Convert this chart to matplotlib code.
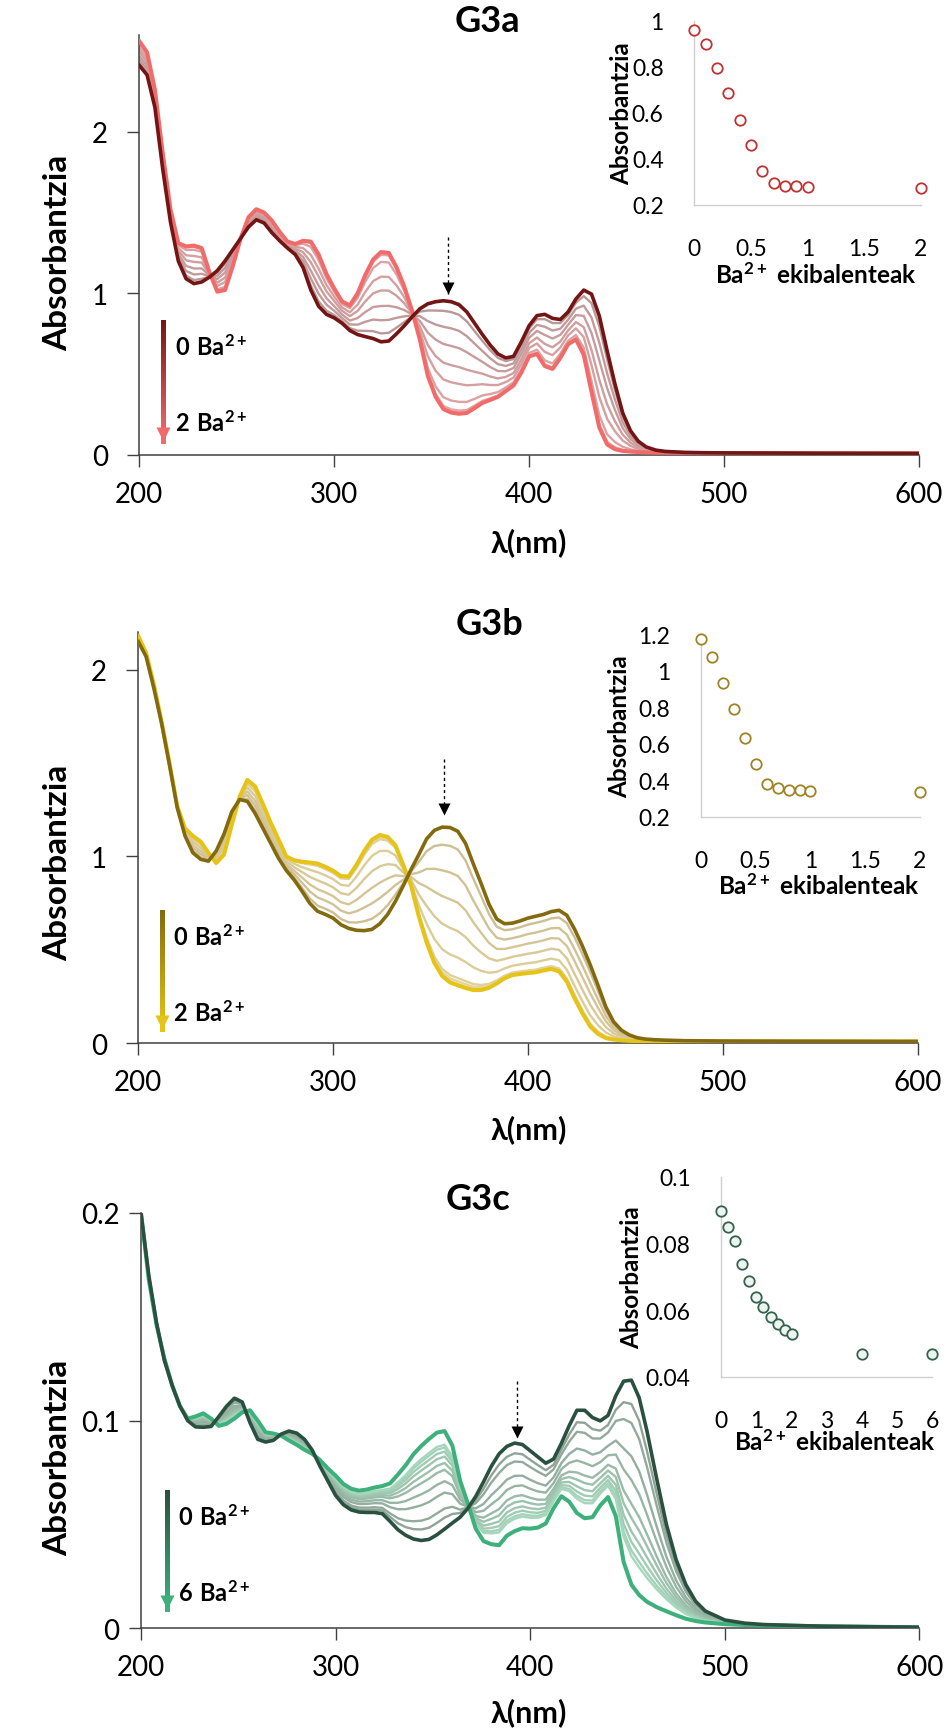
import numpy as np
import matplotlib
matplotlib.use("Agg")
import matplotlib.pyplot as plt
from matplotlib.collections import LineCollection
from matplotlib.colors import to_rgb
from matplotlib.ticker import FixedLocator, FuncFormatter
import matplotlib.transforms as mtransforms

plt.rcParams['font.family'] = ['Lato', 'DejaVu Sans']
plt.rcParams['mathtext.fontset'] = 'custom'
plt.rcParams['mathtext.rm'] = 'Lato'
plt.rcParams['mathtext.bf'] = 'Lato:bold'
plt.rcParams['mathtext.default'] = 'bf'

# ---------------------------------------------------------------- data
# wavelength grids (nm)
WL_AB = [200, 204, 208, 212, 216, 220, 224, 228, 232, 236, 240, 244, 248, 252, 256,
         260, 264, 268, 272, 276, 280, 284, 288, 292, 296, 300, 304, 308, 312, 316,
         320, 324, 328, 332, 336, 340, 344, 348, 352, 356, 360, 364, 368, 372, 376,
         380, 384, 388, 392, 396, 400, 404, 408, 412, 416, 420, 424, 428, 432, 436,
         440, 444, 448, 452, 456, 460, 465, 470, 480, 490, 500, 550, 600]
WL_C = [200, 204, 208, 212, 216, 220, 224, 228, 232, 236, 240, 244, 248, 252, 256,
        260, 264, 268, 272, 276, 280, 284, 288, 292, 296, 300, 304, 308, 312, 316,
        320, 324, 328, 332, 336, 340, 344, 348, 352, 356, 360, 364, 368, 372, 376,
        380, 384, 388, 392, 396, 400, 404, 408, 412, 416, 420, 424, 428, 432, 436,
        440, 444, 448, 452, 456, 460, 465, 470, 475, 480, 485, 490, 500, 510, 520,
        550, 600]

# G3a: free ligand (0 Ba2+) and with 2 equiv Ba2+
G3A_FREE = [2.41, 2.35, 2.15, 1.77, 1.44, 1.20, 1.09, 1.06, 1.07, 1.10, 1.14, 1.20, 1.27, 1.34, 1.41,
            1.455, 1.435, 1.375, 1.325, 1.28, 1.24, 1.16, 1.02, 0.92, 0.87, 0.848, 0.815, 0.77, 0.745, 0.732,
            0.72, 0.70, 0.705, 0.75, 0.80, 0.855, 0.905, 0.935, 0.948, 0.954, 0.948, 0.93, 0.885, 0.815, 0.745,
            0.68, 0.625, 0.60, 0.61, 0.70, 0.80, 0.862, 0.870, 0.845, 0.838, 0.885, 0.965, 1.02, 0.995, 0.86,
            0.645, 0.44, 0.26, 0.15, 0.085, 0.05, 0.03, 0.022, 0.016, 0.014, 0.013, 0.011, 0.010]
G3A_BA = [2.56, 2.49, 2.26, 1.87, 1.52, 1.31, 1.29, 1.295, 1.28, 1.13, 1.01, 1.02, 1.17, 1.34, 1.47,
          1.52, 1.50, 1.45, 1.38, 1.32, 1.305, 1.325, 1.32, 1.24, 1.12, 1.03, 0.95, 0.925, 1.00, 1.115,
          1.21, 1.255, 1.25, 1.16, 1.04, 0.89, 0.71, 0.49, 0.36, 0.284, 0.262, 0.255, 0.26, 0.29, 0.322,
          0.34, 0.36, 0.395, 0.43, 0.51, 0.61, 0.625, 0.55, 0.532, 0.60, 0.685, 0.715, 0.62, 0.39, 0.17,
          0.065, 0.036, 0.025, 0.021, 0.018, 0.016, 0.015, 0.014, 0.013, 0.012, 0.012, 0.010, 0.010]

# G3b
G3B_FREE = [2.15, 2.07, 1.90, 1.71, 1.49, 1.26, 1.11, 1.02, 0.985, 0.975, 1.03, 1.12, 1.24, 1.305, 1.295,
            1.23, 1.15, 1.07, 0.99, 0.925, 0.875, 0.815, 0.75, 0.707, 0.69, 0.67, 0.635, 0.615, 0.605, 0.603,
            0.61, 0.64, 0.69, 0.76, 0.843, 0.93, 1.01, 1.094, 1.14, 1.157, 1.155, 1.135, 1.07, 0.96, 0.855,
            0.745, 0.665, 0.64, 0.643, 0.655, 0.67, 0.68, 0.69, 0.705, 0.712, 0.685, 0.61, 0.52, 0.42, 0.31,
            0.195, 0.115, 0.07, 0.045, 0.03, 0.023, 0.019, 0.017, 0.014, 0.013, 0.012, 0.011, 0.010]
G3B_BA = [2.18, 2.09, 1.92, 1.72, 1.50, 1.27, 1.15, 1.11, 1.08, 1.02, 0.965, 1.01, 1.17, 1.32, 1.41,
          1.375, 1.28, 1.18, 1.09, 1.0, 0.98, 0.972, 0.968, 0.962, 0.945, 0.924, 0.895, 0.893, 0.955, 1.03,
          1.09, 1.115, 1.105, 1.06, 0.955, 0.845, 0.68, 0.54, 0.43, 0.36, 0.326, 0.31, 0.296, 0.285, 0.285,
          0.297, 0.32, 0.348, 0.365, 0.371, 0.376, 0.38, 0.39, 0.398, 0.385, 0.33, 0.24, 0.16, 0.09, 0.05,
          0.028, 0.02, 0.016, 0.013, 0.012, 0.011, 0.010, 0.010, 0.010, 0.010, 0.010, 0.010, 0.010]

# G3c: free ligand (0 Ba2+) and with 6 equiv Ba2+
G3C_FREE = [0.200, 0.170, 0.147, 0.129, 0.117, 0.107, 0.100, 0.097, 0.0968, 0.0972, 0.102, 0.107, 0.1108, 0.109, 0.099,
            0.091, 0.0897, 0.0905, 0.0935, 0.095, 0.094, 0.091, 0.0858, 0.078, 0.071, 0.064, 0.0595, 0.057, 0.056, 0.0558,
            0.0558, 0.0552, 0.0515, 0.0475, 0.0448, 0.043, 0.0423, 0.0428, 0.045, 0.0478, 0.0507, 0.0535, 0.0578, 0.0635, 0.0705,
            0.078, 0.084, 0.0876, 0.0892, 0.0885, 0.0855, 0.0825, 0.0795, 0.0815, 0.089, 0.0975, 0.105, 0.105, 0.1015, 0.0999,
            0.1025, 0.112, 0.119, 0.1195, 0.111, 0.095, 0.072, 0.050, 0.033, 0.021, 0.013, 0.0083, 0.004, 0.0025, 0.0018,
            0.001, 0.0005]
G3C_BA = [0.200, 0.168, 0.146, 0.130, 0.117, 0.107, 0.101, 0.102, 0.1035, 0.101, 0.0975, 0.0985, 0.101, 0.104, 0.105,
          0.100, 0.0944, 0.0938, 0.0928, 0.0905, 0.0884, 0.086, 0.084, 0.081, 0.077, 0.0735, 0.0695, 0.0672, 0.0663, 0.0668,
          0.0678, 0.0685, 0.0698, 0.074, 0.0785, 0.0838, 0.0878, 0.0912, 0.0942, 0.095, 0.088, 0.071, 0.060, 0.048, 0.042,
          0.0405, 0.040, 0.0446, 0.0468, 0.0482, 0.048, 0.0485, 0.0505, 0.0578, 0.0636, 0.061, 0.0555, 0.053, 0.0535, 0.0592,
          0.0632, 0.054, 0.032, 0.021, 0.016, 0.0128, 0.0102, 0.0082, 0.0063, 0.0046, 0.0035, 0.0028, 0.002, 0.0016, 0.0014,
          0.001, 0.0005]

# titration tracks (inset): Ba2+ equivalents vs absorbance at the marked band
EQ_G3A = [0, 0.1, 0.2, 0.3, 0.4, 0.5, 0.6, 0.7, 0.8, 0.9, 1.0, 2.0]
TRACK_G3A = [0.961, 0.897, 0.796, 0.687, 0.568, 0.462, 0.349, 0.294, 0.284, 0.281, 0.280, 0.274]
EQ_G3B = [0, 0.1, 0.2, 0.3, 0.4, 0.5, 0.6, 0.7, 0.8, 0.9, 1.0, 2.0]
TRACK_G3B = [1.175, 1.076, 0.932, 0.787, 0.632, 0.488, 0.377, 0.359, 0.344, 0.344, 0.341, 0.337]
EQ_G3C = [0, 0.2, 0.4, 0.6, 0.8, 1.0, 1.2, 1.4, 1.6, 1.8, 2.0, 4.0, 6.0]
TRACK_G3C = [0.0898, 0.0848, 0.0808, 0.0738, 0.0688, 0.0638, 0.0608, 0.0580, 0.0558, 0.0540, 0.0528, 0.0468, 0.0468]

WL_TICKS = [200, 300, 400, 500, 600]

# ---------------------------------------------------------------- figure
W, H = 953, 1733
fig = plt.figure(figsize=(W / 100, H / 100), dpi=100)


def rect(l, t, r, b):
    return [l / W, 1 - b / H, (r - l) / W, (b - t) / H]


def blend(c0, c1, t):
    a, b = np.array(to_rgb(c0)), np.array(to_rgb(c1))
    return tuple(a + (b - a) * t)


fmt_g = FuncFormatter(lambda v, p: f"{v:g}")

panels = [
    dict(title="G3a", wl=WL_AB, free=G3A_FREE, bound=G3A_BA, eq=EQ_G3A, track=TRACK_G3A,
         main=(139.3, 35.6, 919.0, 456.0), ylim=(0, 2.6), yticks=[0, 1, 2], ypad=14,
         inset=(694.3, 21.7, 921.0, 206.0), ixlim=(0, 2), iylim=(0.2, 1.0),
         ixticks=[0, 0.5, 1, 1.5, 2], iyticks=[0.2, 0.4, 0.6, 0.8, 1.0],
         dark="#741515", light="#F26B6B", mid0="#BB9898", mid1="#F7AAAA",
         mk_edge="#C1312F", mk_face="white",
         dash=(358.4, 1.35, 0.996), leg=(212.3, 0.823, 0.088, 218.3, 0.676, 0.204),
         leg_n=("0", "2"),
         title_xy=(487, 22), ylab_y=253, xlab_y=543, iylab_x=622, ixlab_y=275),
    dict(title="G3b", wl=WL_AB, free=G3B_FREE, bound=G3B_BA, eq=EQ_G3B, track=TRACK_G3B,
         main=(138.3, 633.3, 917.5, 1044.3), ylim=(0, 2.2), yticks=[0, 1, 2], ypad=14,
         inset=(701.0, 635.0, 920.0, 817.7), ixlim=(0, 2), iylim=(0.2, 1.2),
         ixticks=[0, 0.5, 1, 1.5, 2], iyticks=[0.2, 0.4, 0.6, 0.8, 1.0, 1.2],
         dark="#836A0E", light="#E5C317", mid0="#CDBE94", mid1="#EFDF9E",
         mk_edge="#9F8226", mk_face="white",
         dash=(357.1, 1.522, 1.227), leg=(212.3, 0.701, 0.077, 218.0, 0.576, 0.166),
         leg_n=("0", "2"),
         title_xy=(490, 625), ylab_y=863, xlab_y=1130, iylab_x=620, ixlab_y=886),
    dict(title="G3c", wl=WL_C, free=G3C_FREE, bound=G3C_BA, eq=EQ_G3C, track=TRACK_G3C,
         main=(141.0, 1214.0, 919.4, 1629.3), ylim=(0, 0.2), yticks=[0, 0.1, 0.2], ypad=7,
         inset=(721.3, 1177.7, 932.3, 1377.7), ixlim=(0, 6), iylim=(0.04, 0.1),
         ixticks=[0, 1, 2, 3, 4, 5, 6], iyticks=[0.04, 0.06, 0.08, 0.1],
         dark="#2A5140", light="#3DB07B", mid0="#8FA497", mid1="#A8DDC0",
         mk_edge="#35624C", mk_face="#EDF5F0",
         dash=(393.0, 0.1192, 0.092), leg=(213.2, 0.0655, 0.0093, 219.2, 0.0542, 0.0173),
         leg_n=("0", "6"),
         title_xy=(478, 1200), ylab_y=1458, xlab_y=1713, iylab_x=632, ixlab_y=1442),
]

for p in panels:
    # ---------------- main spectra
    ax = fig.add_axes(rect(*p["main"]))
    wl = np.asarray(p["wl"], float)
    free = np.asarray(p["free"], float)
    bound = np.asarray(p["bound"], float)
    track = np.asarray(p["track"], float)
    frac = (track[0] - track) / (track[0] - track[-1])
    n_mid = len(frac) - 2
    for k in range(1, len(frac) - 1):
        col = blend(p["mid0"], p["mid1"], (k - 1) / max(n_mid - 1, 1))
        ax.plot(wl, free + frac[k] * (bound - free), color=col, lw=1.7,
                solid_joinstyle="round", zorder=2)
    ax.plot(wl, bound, color=p["light"], lw=2.9, solid_joinstyle="round", zorder=3)
    ax.plot(wl, free, color=p["dark"], lw=2.6, solid_joinstyle="round", zorder=4)

    ax.set_xlim(200, 600)
    ax.set_ylim(*p["ylim"])
    ax.xaxis.set_major_locator(FixedLocator(WL_TICKS))
    ax.yaxis.set_major_locator(FixedLocator(p["yticks"]))
    ax.yaxis.set_major_formatter(fmt_g)
    for s in ("top", "right"):
        ax.spines[s].set_visible(False)
    for s in ("left", "bottom"):
        ax.spines[s].set_color("#404040")
        ax.spines[s].set_linewidth(1.1)
    ax.tick_params(direction="out", length=8.5, width=1.0, color="#404040",
                   labelsize=20, labelcolor="black")
    ax.tick_params(axis="x", pad=10)
    ax.tick_params(axis="y", pad=p["ypad"])
    ax.patch.set_alpha(0)

    # dashed marker arrow over the tracked band
    dx, dy0, dy1 = p["dash"]
    ax.plot([dx, dx], [dy0, dy1], ls=(0, (2.2, 2.2)), color="black", lw=1.0, zorder=6)
    head = mtransforms.offset_copy(ax.transData, fig=fig, x=0, y=4, units="points")
    ax.plot([dx], [dy1], marker="v", ms=8, color="black", mec="none",
            transform=head, zorder=6)

    # gradient arrow "0 -> n Ba2+"
    lx, ly0, ly1, tx, ty0, ty1 = p["leg"]
    ys = np.linspace(ly0, ly1, 81)
    segs = [[(lx, ys[i]), (lx, ys[i + 1])] for i in range(80)]
    cols = [blend(p["dark"], p["light"], i / 79) for i in range(80)]
    ax.add_collection(LineCollection(segs, colors=cols, linewidths=3.6,
                                     capstyle="projecting", antialiaseds=False,
                                     zorder=6))
    head2 = mtransforms.offset_copy(ax.transData, fig=fig, x=0, y=5, units="points")
    ax.plot([lx], [ly1], marker="v", ms=10, color=p["light"], mec="none",
            transform=head2, zorder=6)
    for ty, n in ((ty0, p["leg_n"][0]), (ty1, p["leg_n"][1])):
        ax.text(tx, ty, r"$" + n + r"\ Ba^{2+}$", fontsize=17,
                ha="left", va="center", zorder=7)

    # titles and axis labels
    fig.text(p["title_xy"][0] / W, 1 - p["title_xy"][1] / H, p["title"],
             fontsize=26, fontweight="bold", ha="center", va="center")
    fig.text(58 / W, 1 - p["ylab_y"] / H, "Absorbantzia", fontsize=24,
             fontweight="bold", rotation=90, ha="center", va="center")
    fig.text(529 / W, 1 - p["xlab_y"] / H, "λ(nm)", fontsize=22,
             fontweight="bold", ha="center", va="center")

    # ---------------- inset: titration curve
    ia = fig.add_axes(rect(*p["inset"]))
    ia.plot(p["eq"], p["track"], ls="none", marker="o", ms=7.5, mew=1.3,
            mec=p["mk_edge"], mfc=p["mk_face"], clip_on=False, zorder=5)
    ia.set_xlim(*p["ixlim"])
    ia.set_ylim(*p["iylim"])
    ia.xaxis.set_major_locator(FixedLocator(p["ixticks"]))
    ia.yaxis.set_major_locator(FixedLocator(p["iyticks"]))
    ia.xaxis.set_major_formatter(fmt_g)
    ia.yaxis.set_major_formatter(fmt_g)
    for s in ("top", "right"):
        ia.spines[s].set_visible(False)
    for s in ("left", "bottom"):
        ia.spines[s].set_color("#D0D0D0")
        ia.spines[s].set_linewidth(1.0)
    ia.tick_params(length=0, labelsize=16.5, labelcolor="black")
    ia.tick_params(axis="x", pad=24)
    ia.tick_params(axis="y", pad=22)
    ia.patch.set_alpha(0)
    il, it, ir, ib = p["inset"]
    fig.text(p["iylab_x"] / W, 1 - ((it + ib) / 2) / H, "Absorbantzia", fontsize=17.5,
             fontweight="bold", rotation=90, ha="center", va="center")
    fig.text(((il + ir) / 2 + 8) / W, 1 - p["ixlab_y"] / H, r"$Ba^{2+}$ ekibalenteak",
             fontsize=17.5, fontweight="bold", ha="center", va="center")

fig.savefig("out.png", dpi=100)
